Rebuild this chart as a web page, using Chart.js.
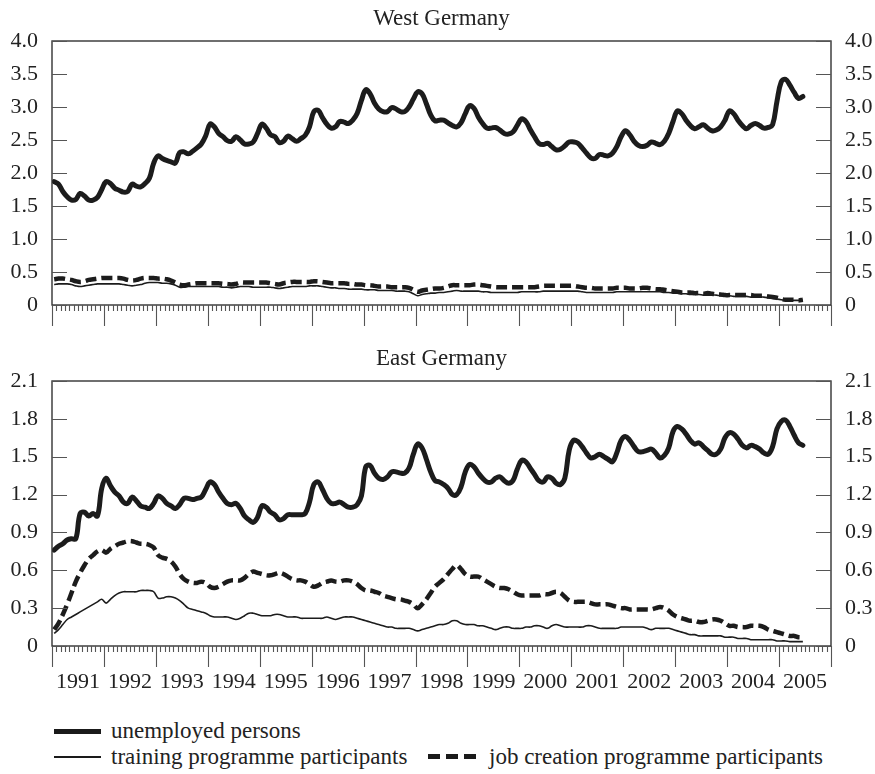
<!DOCTYPE html>
<html>
<head>
<meta charset="utf-8">
<script src="https://cdn.jsdelivr.net/npm/chart.js@4.4.0/dist/chart.umd.min.js"></script>
<style>
  body { margin: 0; background: #fff; width: 875px; height: 774px; position: relative; overflow: hidden;
         font-family: "Liberation Serif", "Times New Roman", serif; color: #222; }
  #westBox { position: absolute; left: 0; top: 0; width: 875px; height: 340px; }
  #eastBox { position: absolute; left: 0; top: 330px; width: 875px; height: 370px; }
  .leg { position: absolute; font-size: 23px; line-height: 26px; white-space: nowrap; }
  .sw { position: absolute; }
</style>
</head>
<body>
<div id="westBox"><canvas id="westChart"></canvas></div>
<div id="eastBox"><canvas id="eastChart"></canvas></div>

<div class="sw" style="left:54px; top:729px; width:47px; height:5px; background:#1a1a1a;"></div>
<div class="leg" style="left:111px; top:718px;">unemployed persons</div>
<div class="sw" style="left:54px; top:756px; width:47px; height:1.5px; background:#1a1a1a;"></div>
<div class="leg" style="left:111px; top:744px;">training programme participants</div>
<div class="sw" style="left:428px; top:754px; width:48px; height:5px;
     background: repeating-linear-gradient(90deg, #1a1a1a 0 12px, transparent 12px 18px);"></div>
<div class="leg" style="left:489px; top:744px;">job creation programme participants</div>

<script>
const years = ["1991","1992","1993","1994","1995","1996","1997","1998","1999","2000","2001","2002","2003","2004","2005"];

// monthly values, Jan 1991 .. Jun 2005 (millions)
const westUnemployed = [
  1.87,1.83,1.72,1.64,1.59,1.60,1.69,1.65,1.59,1.59,1.63,1.75,
  1.87,1.84,1.77,1.74,1.71,1.72,1.83,1.80,1.79,1.84,1.92,2.15,
  2.26,2.22,2.19,2.17,2.15,2.31,2.32,2.29,2.33,2.38,2.44,2.56,
  2.74,2.70,2.60,2.55,2.49,2.48,2.55,2.50,2.44,2.44,2.47,2.60,
  2.74,2.68,2.58,2.55,2.46,2.48,2.56,2.52,2.48,2.52,2.57,2.70,
  2.93,2.95,2.84,2.74,2.68,2.70,2.78,2.77,2.75,2.80,2.90,3.10,
  3.26,3.20,3.06,2.97,2.93,2.93,2.99,2.97,2.93,2.93,3.00,3.12,
  3.23,3.20,3.05,2.88,2.79,2.80,2.80,2.76,2.72,2.70,2.76,2.90,
  3.02,2.98,2.85,2.75,2.68,2.68,2.69,2.65,2.60,2.59,2.62,2.72,
  2.82,2.78,2.66,2.55,2.45,2.43,2.45,2.40,2.35,2.36,2.41,2.47,
  2.47,2.45,2.38,2.30,2.23,2.22,2.28,2.27,2.26,2.30,2.40,2.55,
  2.64,2.58,2.48,2.42,2.40,2.42,2.47,2.45,2.43,2.48,2.60,2.78,
  2.94,2.90,2.80,2.72,2.67,2.70,2.73,2.68,2.64,2.65,2.70,2.80,
  2.94,2.90,2.80,2.72,2.67,2.72,2.75,2.72,2.68,2.69,2.73,3.08,
  3.38,3.42,3.33,3.22,3.13,3.16
];
const westTraining = [
  0.31,0.32,0.32,0.32,0.31,0.29,0.28,0.29,0.30,0.31,0.32,0.32,
  0.32,0.32,0.32,0.32,0.31,0.30,0.29,0.30,0.31,0.33,0.34,0.34,
  0.34,0.33,0.33,0.32,0.30,0.27,0.27,0.28,0.28,0.28,0.28,0.28,
  0.28,0.28,0.28,0.27,0.27,0.26,0.27,0.28,0.28,0.28,0.27,0.27,
  0.27,0.27,0.27,0.26,0.25,0.26,0.27,0.28,0.28,0.28,0.28,0.29,
  0.29,0.29,0.28,0.27,0.26,0.26,0.25,0.25,0.24,0.24,0.24,0.24,
  0.23,0.23,0.23,0.22,0.22,0.22,0.22,0.21,0.21,0.21,0.20,0.17,
  0.14,0.16,0.17,0.18,0.18,0.19,0.19,0.20,0.21,0.22,0.21,0.21,
  0.21,0.21,0.21,0.20,0.20,0.19,0.19,0.19,0.19,0.19,0.19,0.19,
  0.20,0.20,0.20,0.20,0.20,0.21,0.21,0.21,0.21,0.21,0.21,0.21,
  0.21,0.21,0.20,0.19,0.19,0.19,0.19,0.19,0.19,0.19,0.20,0.20,
  0.20,0.20,0.20,0.20,0.20,0.20,0.20,0.20,0.20,0.19,0.19,0.18,
  0.18,0.17,0.17,0.16,0.16,0.16,0.15,0.15,0.15,0.15,0.14,0.14,
  0.14,0.13,0.13,0.13,0.13,0.12,0.12,0.12,0.12,0.11,0.10,0.09,
  0.08,0.07,0.07,0.07,0.07,0.07
];
const westJobCreation = [
  0.39,0.40,0.40,0.39,0.38,0.36,0.35,0.36,0.38,0.39,0.40,0.41,
  0.41,0.41,0.41,0.41,0.40,0.38,0.37,0.38,0.40,0.41,0.41,0.41,
  0.40,0.40,0.39,0.37,0.34,0.31,0.30,0.31,0.32,0.33,0.33,0.33,
  0.33,0.33,0.33,0.32,0.32,0.31,0.32,0.34,0.34,0.34,0.34,0.34,
  0.34,0.34,0.33,0.32,0.31,0.33,0.34,0.35,0.35,0.35,0.35,0.35,
  0.36,0.36,0.35,0.34,0.33,0.33,0.33,0.33,0.32,0.32,0.31,0.31,
  0.30,0.30,0.29,0.28,0.28,0.28,0.27,0.27,0.27,0.27,0.26,0.23,
  0.20,0.22,0.23,0.24,0.25,0.25,0.26,0.28,0.30,0.30,0.30,0.30,
  0.30,0.31,0.31,0.30,0.29,0.28,0.27,0.27,0.27,0.27,0.27,0.27,
  0.27,0.27,0.27,0.27,0.28,0.29,0.29,0.29,0.29,0.29,0.29,0.29,
  0.29,0.28,0.27,0.26,0.26,0.25,0.25,0.25,0.25,0.25,0.26,0.26,
  0.26,0.25,0.25,0.25,0.26,0.26,0.25,0.24,0.24,0.23,0.22,0.21,
  0.20,0.19,0.19,0.19,0.18,0.18,0.17,0.18,0.17,0.16,0.16,0.15,
  0.15,0.15,0.15,0.15,0.15,0.15,0.14,0.14,0.14,0.13,0.12,0.11,
  0.09,0.08,0.08,0.08,0.07,0.08
];

const eastUnemployed = [
  0.76,0.79,0.81,0.84,0.85,0.85,1.05,1.06,1.03,1.05,1.03,1.25,
  1.33,1.27,1.22,1.19,1.14,1.13,1.18,1.15,1.11,1.10,1.09,1.13,
  1.19,1.17,1.13,1.11,1.09,1.12,1.17,1.17,1.16,1.17,1.18,1.24,
  1.30,1.28,1.22,1.17,1.13,1.12,1.13,1.09,1.03,1.00,0.98,1.02,
  1.11,1.10,1.06,1.04,1.00,1.01,1.04,1.04,1.04,1.04,1.05,1.14,
  1.28,1.30,1.24,1.17,1.13,1.13,1.14,1.12,1.10,1.10,1.12,1.19,
  1.42,1.43,1.37,1.33,1.32,1.34,1.38,1.38,1.37,1.37,1.41,1.52,
  1.60,1.57,1.48,1.38,1.31,1.30,1.28,1.25,1.20,1.20,1.26,1.38,
  1.44,1.42,1.37,1.33,1.30,1.30,1.33,1.34,1.31,1.29,1.31,1.40,
  1.47,1.46,1.41,1.36,1.31,1.30,1.34,1.33,1.29,1.28,1.33,1.55,
  1.63,1.62,1.58,1.53,1.49,1.50,1.52,1.50,1.48,1.46,1.53,1.63,
  1.66,1.63,1.58,1.54,1.54,1.55,1.56,1.53,1.49,1.51,1.57,1.70,
  1.74,1.72,1.68,1.63,1.60,1.61,1.58,1.55,1.52,1.52,1.56,1.65,
  1.69,1.68,1.64,1.59,1.57,1.59,1.58,1.56,1.53,1.52,1.58,1.72,
  1.78,1.79,1.74,1.67,1.61,1.59
];
const eastTraining = [
  0.10,0.13,0.17,0.21,0.23,0.25,0.27,0.29,0.31,0.33,0.35,0.37,
  0.34,0.37,0.40,0.42,0.43,0.43,0.43,0.43,0.44,0.44,0.44,0.43,
  0.38,0.38,0.39,0.39,0.38,0.36,0.33,0.30,0.29,0.28,0.27,0.26,
  0.24,0.23,0.23,0.23,0.23,0.22,0.21,0.22,0.24,0.26,0.26,0.25,
  0.24,0.24,0.24,0.25,0.25,0.24,0.23,0.23,0.23,0.22,0.22,0.22,
  0.22,0.22,0.22,0.23,0.22,0.21,0.22,0.23,0.23,0.23,0.22,0.21,
  0.20,0.19,0.18,0.17,0.16,0.15,0.15,0.14,0.14,0.14,0.14,0.13,
  0.12,0.13,0.14,0.15,0.16,0.17,0.17,0.18,0.20,0.20,0.18,0.17,
  0.17,0.17,0.16,0.16,0.15,0.14,0.13,0.14,0.15,0.15,0.14,0.14,
  0.14,0.15,0.15,0.16,0.16,0.15,0.14,0.16,0.17,0.16,0.15,0.15,
  0.15,0.15,0.15,0.16,0.16,0.15,0.14,0.14,0.14,0.14,0.14,0.15,
  0.15,0.15,0.15,0.15,0.15,0.14,0.13,0.14,0.14,0.14,0.14,0.13,
  0.12,0.11,0.10,0.09,0.09,0.08,0.08,0.08,0.08,0.08,0.08,0.07,
  0.07,0.07,0.06,0.06,0.06,0.05,0.05,0.05,0.05,0.05,0.05,0.04,
  0.04,0.04,0.035,0.035,0.035,0.035
];
const eastJobCreation = [
  0.13,0.18,0.25,0.33,0.42,0.51,0.58,0.64,0.69,0.72,0.75,0.76,
  0.74,0.77,0.79,0.81,0.82,0.83,0.83,0.82,0.81,0.81,0.80,0.78,
  0.72,0.70,0.69,0.67,0.63,0.57,0.53,0.51,0.50,0.50,0.51,0.50,
  0.47,0.46,0.47,0.49,0.51,0.52,0.52,0.52,0.54,0.57,0.59,0.58,
  0.57,0.56,0.56,0.57,0.58,0.57,0.55,0.53,0.52,0.52,0.51,0.49,
  0.47,0.48,0.50,0.51,0.52,0.51,0.51,0.52,0.52,0.51,0.49,0.46,
  0.44,0.44,0.43,0.42,0.40,0.39,0.38,0.37,0.37,0.36,0.35,0.33,
  0.30,0.33,0.37,0.42,0.47,0.50,0.53,0.57,0.61,0.64,0.61,0.57,
  0.55,0.55,0.55,0.53,0.51,0.49,0.47,0.46,0.46,0.45,0.43,0.41,
  0.40,0.40,0.40,0.40,0.40,0.41,0.41,0.42,0.43,0.42,0.39,0.36,
  0.35,0.35,0.35,0.35,0.34,0.33,0.33,0.33,0.33,0.32,0.31,0.30,
  0.30,0.29,0.29,0.29,0.29,0.29,0.29,0.30,0.31,0.30,0.28,0.25,
  0.23,0.22,0.21,0.20,0.20,0.19,0.19,0.20,0.21,0.21,0.20,0.18,
  0.16,0.16,0.15,0.15,0.15,0.16,0.16,0.16,0.15,0.13,0.12,0.11,
  0.10,0.09,0.08,0.08,0.07,0.07
];

const westTicks = [0, 0.5, 1.0, 1.5, 2.0, 2.5, 3.0, 3.5, 4.0];
const eastTicks = [0, 0.3, 0.6, 0.9, 1.2, 1.5, 1.8, 2.1];

const FONT = '"Liberation Serif", "Times New Roman", serif';
const INK = '#1c1c1c';

// each value sits in the middle of its month
const toXY = arr => arr.map((v, i) => ({ x: i + 0.5, y: v }));

const frameAndTicks = {
  id: 'frameAndTicks',
  afterDatasetsDraw(chart) {
    const { ctx, chartArea: a, scales } = chart;
    ctx.save();
    ctx.strokeStyle = '#333';
    ctx.lineWidth = 1.4;
    ctx.strokeRect(a.left, a.top, a.right - a.left, a.bottom - a.top);
    ctx.strokeStyle = '#555';
    ctx.lineWidth = 1.1;
    ctx.beginPath();
    scales.y.ticks.forEach(t => {
      const py = Math.round(scales.y.getPixelForValue(t.value)) + 0.5;
      ctx.moveTo(a.left, py); ctx.lineTo(a.left + 15, py);
      ctx.moveTo(a.right - 15, py); ctx.lineTo(a.right, py);
    });
    for (let m = 0; m <= 180; m++) {
      const px = Math.round(scales.x.getPixelForValue(m)) + 0.5;
      const len = m % 12 === 0 ? 21 : 6;
      ctx.moveTo(px, a.bottom); ctx.lineTo(px, a.bottom + len);
    }
    ctx.stroke();
    ctx.restore();
  }
};

function makeChart(id, title, titlePad, series, tickVals, xHeight, showYears) {
  const yAxis = (pos, w) => ({
    position: pos,
    min: 0,
    max: tickVals[tickVals.length - 1],
    afterBuildTicks: s => { s.ticks = tickVals.map(v => ({ value: v })); },
    ticks: {
      padding: 14,
      color: '#222',
      font: { family: FONT, size: 22 },
      callback: v => v === 0 ? '0' : v.toFixed(1)
    },
    grid: { display: false, drawTicks: false },
    border: { display: false },
    afterFit: s => { s.width = w; }
  });

  return new Chart(id, {
    type: 'line',
    data: {
      datasets: [
        {
          label: 'unemployed persons',
          data: toXY(series[0]),
          borderColor: INK,
          borderWidth: 5,
          borderCapStyle: 'round',
          borderJoinStyle: 'round',
          pointRadius: 0,
          tension: 0.4
        },
        {
          label: 'job creation programme participants',
          data: toXY(series[2]),
          borderColor: INK,
          borderWidth: 4.5,
          borderDash: [11, 5],
          pointRadius: 0,
          tension: 0.4
        },
        {
          label: 'training programme participants',
          data: toXY(series[1]),
          borderColor: INK,
          borderWidth: 1.6,
          pointRadius: 0,
          tension: 0.4
        }
      ]
    },
    options: {
      responsive: true,
      maintainAspectRatio: false,
      animation: false,
      layout: { padding: 0 },
      scales: {
        x: {
          type: 'linear',
          min: 0,
          max: 180,
          afterBuildTicks: s => { s.ticks = years.map((y, k) => ({ value: 12 * k + 6 })); },
          ticks: {
            display: showYears,
            autoSkip: false,
            maxRotation: 0,
            padding: 23,
            color: '#222',
            font: { family: FONT, size: 22 },
            callback: (v, idx) => years[idx]
          },
          grid: { display: false, drawTicks: false },
          border: { display: false },
          afterFit: s => { s.height = xHeight; }
        },
        y: yAxis('left', 52),
        y2: yAxis('right', 44)
      },
      plugins: {
        legend: { display: false },
        tooltip: { enabled: false },
        title: {
          display: true,
          text: title,
          fullSize: false,
          color: '#222',
          font: { family: FONT, size: 23, weight: 'normal' },
          padding: titlePad
        }
      }
    },
    plugins: [frameAndTicks]
  });
}

makeChart('westChart', 'West Germany', { top: 5, bottom: 8.4 },
  [westUnemployed, westTraining, westJobCreation], westTicks, 35, false);
makeChart('eastChart', 'East Germany', { top: 15, bottom: 8.4 },
  [eastUnemployed, eastTraining, eastJobCreation], eastTicks, 54, true);
</script>
</body>
</html>
